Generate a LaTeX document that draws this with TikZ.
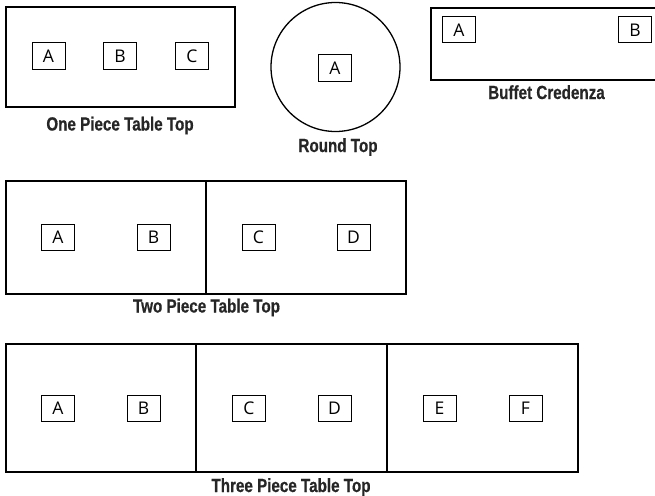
\documentclass[tikz,border=0pt]{standalone}
\usepackage{fontspec}
\newfontfamily\lblfont[FakeStretch=0.80,FakeBold=0.6,UprightFont={* Bold}]{Liberation Sans}
\newfontfamily\boxfont{Open Sans}
\newcommand\seatsize{\fontsize{17.5}{20}\selectfont}
\begin{document}
\begin{tikzpicture}[x=1pt,y=-1pt,
  tbl/.style={draw,line width=1.3pt,rectangle,inner sep=0pt,outer sep=0pt},
  seat/.style={draw,line width=1pt,rectangle,inner sep=0pt,minimum width=33pt,minimum height=26pt,font=\boxfont\seatsize,fill=white},
  lbl/.style={anchor=base,inner sep=0pt,text=black!85,font=\lblfont\fontsize{19}{22}\selectfont}]
\useasboundingbox (0,0) rectangle (655,495);
\clip (0,0) rectangle (655,495);
% One piece
\node[tbl,minimum width=229pt,minimum height=100pt] (one) at (120.5,57) {};
\node[seat] (oneA) at (48.5,56) {A};
\node[seat] (oneB) at (120,56) {B};
\node[seat] (oneC) at (192,56) {C};
\node[lbl] (oneL) at (120,130.5) {One Piece Table Top};
% Round
\node[draw,line width=1.3pt,circle,minimum size=129pt,inner sep=0pt] (round) at (335.5,67) {};
\node[seat] (roundA) at (335,68) {A};
\node[lbl] (roundL) at (338,152) {Round Top};
% Buffet
\node[tbl,minimum width=229pt,minimum height=72pt] (buf) at (545.5,44) {};
\node[seat] (bufA) at (459,30) {A};
\node[seat] (bufB) at (635,30) {B};
\node[lbl] (bufL) at (546.5,99) {Buffet Credenza};
% Two piece
\node[tbl,minimum width=200pt,minimum height=113pt] (twoL) at (106,237.5) {};
\node[tbl,minimum width=200pt,minimum height=113pt] (twoR) at (306,237.5) {};
\node[seat] (twoA) at (58,237.5) {A};
\node[seat] (twoB) at (153.5,237.5) {B};
\node[seat] (twoC) at (258.5,237.5) {C};
\node[seat] (twoD) at (353.5,237.5) {D};
\node[lbl] (twoLbl) at (206.5,312.5) {Two Piece Table Top};
% Three piece
\node[tbl,minimum width=190pt,minimum height=128pt] (thr1) at (101,408) {};
\node[tbl,minimum width=191pt,minimum height=128pt] (thr2) at (291.5,408) {};
\node[tbl,minimum width=191pt,minimum height=128pt] (thr3) at (482.5,408) {};
\node[seat] (thrA) at (58,408.5) {A};
\node[seat] (thrB) at (143.5,408.5) {B};
\node[seat] (thrC) at (249,408.5) {C};
\node[seat] (thrD) at (334.5,408.5) {D};
\node[seat] (thrE) at (439.5,408.5) {E};
\node[seat] (thrF) at (525.5,408.5) {F};
\node[lbl] (thrLbl) at (291,492) {Three Piece Table Top};
\end{tikzpicture}
\end{document}
